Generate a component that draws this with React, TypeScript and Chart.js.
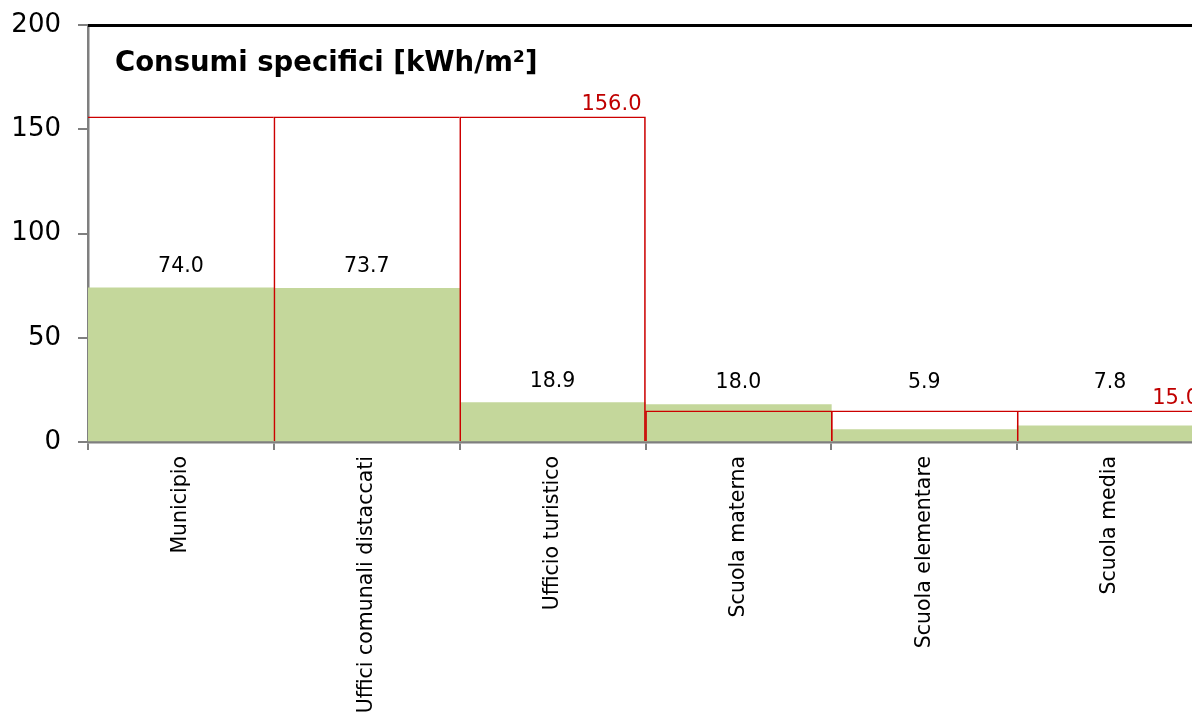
import { useEffect, useRef } from 'react';
import { Chart, registerables } from 'chart.js';

Chart.register(...registerables);

const categories = [
  'Municipio',
  'Uffici comunali distaccati',
  'Ufficio turistico',
  'Scuola materna',
  'Scuola elementare',
  'Scuola media',
];
const consumi = [74.0, 73.7, 18.9, 18.0, 5.9, 7.8];
const riferimento = [156, 156, 156, 15, 15, 15];
const yTicks = [0, 50, 100, 150, 200];
const chartTitle = 'Consumi specifici [kWh/m²]';

const FONT = '"DejaVu Sans", Verdana, sans-serif';
const GREEN = '#c4d79b';
const RED_LINE = '#cc0000';
const RED_TEXT = '#c00000';
const AXIS = '#7f7f7f';
const LABEL_FLOOR = 18;

const isGroupEnd = (i: number) =>
  i === riferimento.length - 1 || riferimento[i + 1] !== riferimento[i];

const overlay = {
  id: 'overlay',
  afterDatasetsDraw(chart: any) {
    const { ctx, chartArea, scales } = chart;
    const x = scales.x;
    const y = scales.y;
    ctx.save();
    // top frame line
    ctx.strokeStyle = '#000';
    ctx.lineWidth = 3;
    ctx.beginPath();
    ctx.moveTo(chartArea.left, chartArea.top + 0.5);
    ctx.lineTo(chartArea.right, chartArea.top + 0.5);
    ctx.stroke();

    // title inside plot
    ctx.fillStyle = '#000';
    ctx.font = `bold 27.5px ${FONT}`;
    ctx.textAlign = 'left';
    ctx.textBaseline = 'alphabetic';
    ctx.fillText(chartTitle, chartArea.left + 27, chartArea.top + 46);

    // value labels
    ctx.font = `20.5px ${FONT}`;
    ctx.textAlign = 'center';
    consumi.forEach((v, i) => {
      const px = x.getPixelForValue(i);
      const py = y.getPixelForValue(Math.max(v, LABEL_FLOOR)) - 16;
      ctx.fillText(v.toFixed(1), px, py);
    });

    // reference labels
    const refMeta = chart.getDatasetMeta(1);
    ctx.fillStyle = RED_TEXT;
    ctx.font = `21px ${FONT}`;
    ctx.textAlign = 'right';
    riferimento.forEach((r, i) => {
      if (!isGroupEnd(i)) return;
      const el = refMeta.data[i];
      const right = el.x + el.width / 2;
      ctx.fillText(r.toFixed(1), right - 4, y.getPixelForValue(r) - 7);
    });
    ctx.restore();
  },
};

export default function App() {
  const ref = useRef<HTMLCanvasElement | null>(null);

  useEffect(() => {
    if (!ref.current) return;
    const chart = new Chart(ref.current, {
      type: 'bar',
      data: {
        labels: categories,
        datasets: [
          {
            label: 'Consumi specifici',
            data: consumi,
            backgroundColor: GREEN,
            borderWidth: 0,
            barPercentage: 1,
            categoryPercentage: 1,
            grouped: false,
            order: 2,
          },
          {
            label: 'Riferimento',
            data: riferimento,
            backgroundColor: 'rgba(0,0,0,0)',
            borderColor: RED_LINE,
            borderSkipped: false,
            borderWidth: (c: any) => ({
              top: 1,
              left: c.dataIndex === 0 ? 0 : 1,
              right: isGroupEnd(c.dataIndex) ? 1 : 0,
              bottom: 0,
            }),
            barPercentage: 1,
            categoryPercentage: 1,
            grouped: false,
            order: 1,
          },
        ],
      },
      options: {
        animation: false,
        responsive: false,
        devicePixelRatio: 1,
        layout: { padding: { top: 25, right: 12, left: 0, bottom: 0 } },
        plugins: {
          legend: { display: false },
          tooltip: { enabled: false },
          title: { display: false },
        },
        scales: {
          x: {
            z: 1,
            offset: true,
            grid: {
              offset: true,
              drawOnChartArea: false,
              color: AXIS,
              tickLength: 8,
              lineWidth: 2,
            },
            border: { color: AXIS, width: 2.5 },
            ticks: {
              autoSkip: false,
              minRotation: 90,
              maxRotation: 90,
              padding: 6,
              color: '#000',
              font: { family: FONT, size: 20.5 },
            },
            afterFit: (s: any) => {
              s.height = 275;
              s.paddingLeft = 0;
              s.paddingRight = 0;
            },
          },
          y: {
            z: 1,
            min: 0,
            max: 200,
            afterBuildTicks: (s: any) => {
              s.ticks = yTicks.map((v) => ({ value: v }));
            },
            grid: {
              drawOnChartArea: false,
              color: AXIS,
              tickLength: 10,
              lineWidth: 2,
            },
            border: { color: AXIS, width: 2.5 },
            ticks: {
              padding: 17,
              color: '#000',
              font: { family: FONT, size: 26 },
            },
            afterFit: (s: any) => {
              s.width = 88;
              s.paddingTop = 0;
              s.paddingBottom = 0;
            },
          },
        },
      },
      plugins: [overlay],
    });
    return () => chart.destroy();
  }, []);

  return (
    <div
      style={{
        position: 'fixed',
        left: 0,
        top: 0,
        width: 1192,
        height: 717,
        overflow: 'hidden',
        background: '#fff',
      }}
    >
      <canvas ref={ref} width={1215} height={717} style={{ display: 'block' }} />
    </div>
  );
}
